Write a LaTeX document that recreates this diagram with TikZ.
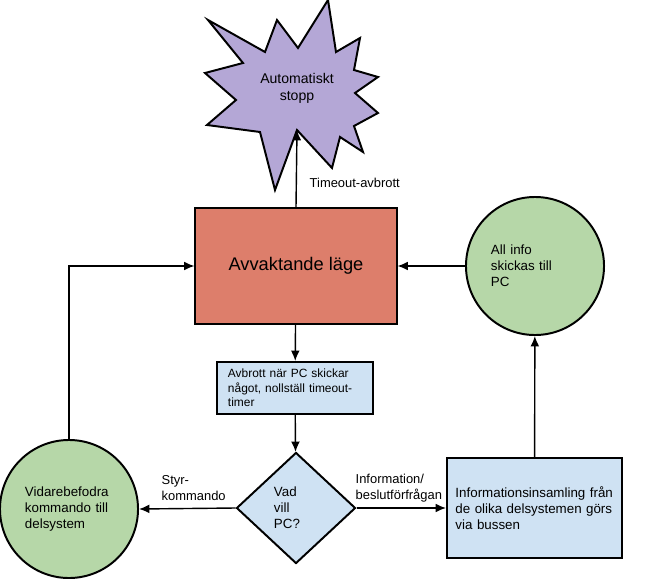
\documentclass[tikz,border=0pt]{standalone}
\usepackage{fontspec}
\setmainfont{Liberation Sans}
\usetikzlibrary{arrows.meta, shapes.geometric}
\definecolor{cpurple}{HTML}{B4A7D6}
\definecolor{cred}{HTML}{DD7E6B}
\definecolor{cblue}{HTML}{CFE2F3}
\definecolor{cgreen}{HTML}{B6D7A8}
\tikzset{
  every picture/.style={line width=1pt},
  txt/.style={font=\fontsize{9.5}{11.5}\selectfont},
  box/.style={draw=black, fill=#1, line width=1.4pt, inner sep=0pt, align=left, txt},
  box/.default=cblue,
  disc/.style={circle, draw=black, fill=cgreen, line width=1.4pt, minimum size=3.45cm, text width=2.2cm, align=left, inner sep=0pt, txt},
  query/.style={diamond, draw=black, fill=cblue, line width=1.4pt, minimum width=2.975cm, minimum height=2.775cm, inner sep=0pt, text width=1.1cm, align=left, font=\fontsize{9.5}{11.4}\selectfont},
  burst/.style={draw=black, fill=cpurple, line width=1.4pt},
  arrow/.style={-{Latex[length=2.6mm, width=2.2mm]}, draw=black, line width=1pt},
  lbl/.style={inner sep=0pt, align=left, font=\fontsize{9.2}{11}\selectfont},
}

\begin{document}
\begin{tikzpicture}[x=0.025cm, y=-0.025cm]
  \useasboundingbox (0,0) rectangle (650,578);
  % explosion shape at the top
  \draw[burst] (328,0) -- (336,52) -- (360,38) -- (354,70) -- (378,77) -- (355,93)
    -- (378,113) -- (354,126) -- (363,152) -- (340,137) -- (332,168) -- (297,130)
    -- (275,190) -- (260,132) -- (207,125) -- (236,100) -- (205,73) -- (243,63)
    -- (208,20) -- (265,52) -- (277,20) -- (298,48) -- cycle;
  \coordinate (stoppin) at (297,130);
  \node[align=center, font=\fontsize{10}{12}\selectfont] (stopp) at (297,88) {Automatiskt\\stopp};
  % main states
  \node[box=cred, minimum width=5.025cm, minimum height=2.9cm, align=center, font=\fontsize{13}{15}\selectfont] (wait) at (296,266) {Avvaktande läge};
  \node[box, minimum width=3.9cm, minimum height=1.3cm, text width=3.35cm, font=\fontsize{8.5}{10.2}\selectfont] (avbrott) at (295,388) {Avbrott när PC skickar\\något, nollställ timeout-\\timer};
  \node[query] (vad) at (296,508) {Vad\\vill\\PC?};
  \node[disc] (vida) at (69,509) {Vidarebefodra\\kommando till\\delsystem};
  \node[box, minimum width=4.375cm, minimum height=2.5cm, text width=3.95cm] (info) at (534.5,508) {Informationsinsamling från\\de olika delsystemen görs\\via bussen};
  \node[disc] (allinfo) at (535,266) {All info\\skickas till\\PC};
  % connectors
  \draw[arrow] (wait.north) -- (stoppin);
  \node[lbl, anchor=west] (timeout) at (309,183) {Timeout-avbrott};
  \draw[arrow] (wait) -- (avbrott);
  \draw[arrow] (avbrott) -- (vad);
  \draw[arrow] (vad.west) -- (vida.east);
  \node[lbl, anchor=west] (styr) at (161,488) {Styr-\\kommando};
  \draw[arrow] (vad.east) -- (info.west);
  \node[lbl, anchor=west] (fraga) at (355,488) {Information/\\beslutförfrågan};
  \draw[arrow] (info) -- (allinfo);
  \draw[arrow] (allinfo) -- (wait);
  \draw[arrow] (vida.north) |- (wait.west);
\end{tikzpicture}
\end{document}
